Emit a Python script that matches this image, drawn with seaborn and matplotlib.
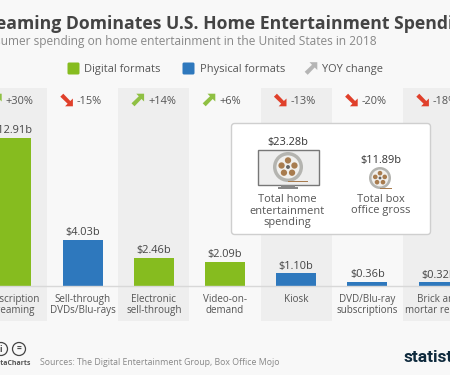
import pandas as pd
import seaborn as sns
import matplotlib

matplotlib.use('Agg')
import matplotlib.pyplot as plt
from matplotlib.patches import Circle, FancyBboxPatch, Polygon, Rectangle

categories = ['Subscription\nstreaming', 'Sell-through\nDVDs/Blu-rays', 'Electronic\nsell-through',
              'Video-on-\ndemand', 'Kiosk', 'DVD/Blu-ray\nsubscriptions', 'Brick and\nmortar rentals']
spending = [12.91, 4.03, 2.46, 2.09, 1.10, 0.36, 0.32]
formats = ['Digital', 'Physical', 'Digital', 'Digital', 'Physical', 'Physical', 'Physical']
yoy = [30, -15, 14, 6, -13, -20, -18]

GREEN = '#86bc1f'
BLUE = '#2e78bd'
UP = '#8fc043'
DOWN = '#e0402b'
BROWN = '#a87c4f'
TXT = '#555555'
BG = '#f8f8f8'
BAND = '#eeeeee'

sns.set_theme(style='white')
plt.rcParams['font.family'] = ['Open Sans', 'DejaVu Sans']

W, H = 450, 375
fig = plt.figure(figsize=(4.5, 3.75), dpi=100, facecolor=BG)

# overlays in pixel coordinates for the furniture
bg = fig.add_axes([0, 0, 1, 1], zorder=0)
bg.set_xlim(0, W)
bg.set_ylim(H, 0)
bg.axis('off')
top = fig.add_axes([0, 0, 1, 1], zorder=5)
top.set_xlim(0, W)
top.set_ylim(H, 0)
top.axis('off')
top.patch.set_alpha(0)

# bar axes: seven columns of 71.2 px, baseline at y=286
col = 71.2
left = 11.4 - col / 2
scale = 11.46
ytop = 88
ax = fig.add_axes([left / W, (H - 286) / H, col * 7 / W, (286 - ytop) / H], zorder=2)
ax.patch.set_alpha(0)

df = pd.DataFrame({'cat': categories, 'val': spending, 'fmt': formats})
sns.barplot(data=df, x='cat', y='val', hue='fmt', dodge=False, legend=False, width=40 / col,
            palette={'Digital': GREEN, 'Physical': BLUE}, saturation=1, linewidth=0, ax=ax)
ax.set_xlim(-0.5, 6.5)
ax.set_ylim(0, (286 - ytop) / scale)
ax.set_xlabel('')
ax.set_ylabel('')
ax.set_yticks([])
ax.set_xticks(range(7))
ax.set_xticklabels(categories, fontsize=7.1, color=TXT, linespacing=1.1)
ax.tick_params(axis='x', length=0, pad=5.5)
for s in ['top', 'left', 'right']:
    ax.spines[s].set_visible(False)
ax.spines['bottom'].set_color('#d8d8d8')
ax.spines['bottom'].set_linewidth(1)

for i, v in enumerate(spending):
    ax.annotate(f'${v:.2f}b', (i, v), xytext=(0, 1.2), textcoords='offset points',
                ha='center', va='bottom', fontsize=7.9, color='#444444')

    cx = left + col * (i + 0.5)
    if i % 2 == 0:
        bg.add_patch(Rectangle((cx - col / 2, 88), col, 233, color=BAND, lw=0))


def arrow(a, x, y, up, color, s=6.3):
    # corner arrow, head at top right or bottom right
    d = -1 if up else 1
    pts = [(x - 1.5, y + d * s), (x + s, y + d * s), (x + s, y - d * 1.5), (x + s - 2.6, y + d * 1.0),
           (x - s + 3, y - d * s), (x - s, y - d * (s - 3)), (x + 1, y + d * (s - 2.6))]
    a.add_patch(Polygon(pts, closed=True, color=color, lw=0))


for i, p in enumerate(yoy):
    cx = left + col * (i + 0.5)
    arrow(top, cx - 16, 100, p > 0, UP if p > 0 else DOWN)
    top.text(cx - 5.6, 101.5, f'{p:+d}%', ha='left', va='center', fontsize=7.9, color=TXT)

# title
top.text(223, 24, 'Streaming Dominates U.S. Home Entertainment Spending', ha='center', va='center',
         fontsize=12.66, fontweight='bold', color='#444444')
top.text(377, 42, 'Consumer spending on home entertainment in the United States in 2018', ha='right',
         va='center', fontsize=8.6, color='#888888')

# legend
top.add_patch(FancyBboxPatch((67.5, 62.5), 12, 12, boxstyle='round,pad=0,rounding_size=1.5', color=GREEN, lw=0))
top.text(84.5, 69.5, 'Digital formats', ha='left', va='center', fontsize=7.9, color=TXT)
top.add_patch(FancyBboxPatch((182.5, 62.5), 12, 12, boxstyle='round,pad=0,rounding_size=1.5', color=BLUE, lw=0))
top.text(199.5, 69.5, 'Physical formats', ha='left', va='center', fontsize=7.9, color=TXT)
arrow(top, 311, 68.5, True, '#b5b5b5')
top.text(322, 69.5, 'YOY change', ha='left', va='center', fontsize=7.9, color=TXT)

# inset panel
top.add_patch(FancyBboxPatch((231.5, 123.5), 199, 111, boxstyle='round,pad=0,rounding_size=3',
                             fc='white', ec='#cfcfcf', lw=1))


def reel(a, x, y, r):
    a.add_patch(Circle((x, y), r, fc='#b4b4b0', ec='none'))
    a.add_patch(Circle((x, y), r * 0.77, fc='#f1f0ee', ec='none'))
    for dx, dy in [(0, -0.44), (0.43, -0.1), (0.27, 0.38), (-0.27, 0.38), (-0.43, -0.1)]:
        a.add_patch(Circle((x + dx * r, y + dy * r), r * 0.21, fc=BROWN, ec='none'))
    a.add_patch(Circle((x, y), r * 0.13, fc='#666666', ec='none'))


top.add_patch(Rectangle((258, 149.5), 61, 35, fc='#eeeeee', ec='#777777', lw=1))
top.add_patch(Rectangle((281, 185), 14, 2, fc='#888888', ec='none'))
top.add_patch(Rectangle((278, 187), 20, 1.5, fc='#888888', ec='none'))
reel(top, 288, 167, 15)
top.add_patch(Rectangle((288, 180.5), 20, 1.5, fc=BROWN, ec='none'))
reel(top, 380, 178, 11)
top.add_patch(Rectangle((380, 187.7), 12, 1.2, fc=BROWN, ec='none'))

top.text(288, 142, '$23.28b', ha='center', va='center', fontsize=7.9, color='#333333')
top.text(381, 160, '$11.89b', ha='center', va='center', fontsize=7.9, color='#333333')
top.text(287.5, 211, 'Total home\nentertainment\nspending', ha='center', va='center', fontsize=7.9,
         color=TXT, linespacing=1.12)
top.text(380.5, 205, 'Total box\noffice gross', ha='center', va='center', fontsize=7.9, color=TXT,
         linespacing=1.12)

# footer
for cx, s in [(1, 'i'), (19, '=')]:
    top.add_patch(Circle((cx, 349), 6.5, fc='none', ec='#444444', lw=0.9))
    top.text(cx, 349, s, ha='center', va='center', fontsize=6, fontweight='bold', color='#444444')
top.text(31, 363, '@StatistaCharts', ha='right', va='center', fontsize=5, fontweight='bold', color='#555555')
top.text(40.5, 362.5, 'Sources: The Digital Entertainment Group, Box Office Mojo', ha='left', va='center',
         fontsize=6.3, color='#888888')
top.text(403, 358, 'statista', ha='left', va='center', fontsize=12.5, fontweight='bold', color='#0f2a3d',
         family=['Roboto', 'DejaVu Sans'])

fig.savefig('out.png', dpi=100, facecolor=BG)
